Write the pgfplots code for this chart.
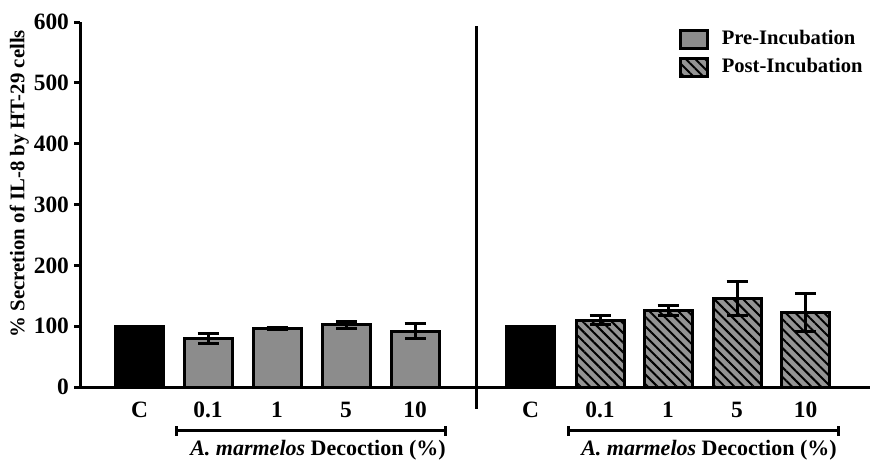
\documentclass[border=0pt]{standalone}
\usepackage{pgfplots}
\pgfplotsset{compat=1.18}
\usepackage{fontspec}
\setmainfont{Liberation Serif}
\usetikzlibrary{patterns.meta}
\pgfplotstableread{
x y e
208 80 8
277 96 1.5
346 102 6
415 92 12
}\pre
\pgfplotstableread{
x y e
600 110 7
668 126 8
737 145 28
805.5 122 31
}\post
\begin{document}
\begin{tikzpicture}[x=1pt,y=1pt]
\path[use as bounding box] (-40,-36.5) rectangle (396,193.5);
\begin{axis}[
  at={(0,0)}, anchor=south west,
  scale only axis, width=395pt, height=182.5pt,
  xmin=80, xmax=870, ymin=0, ymax=600,
  clip=false,
  axis x line=bottom, axis y line=left,
  axis line style={line width=1.5pt,-},
  ytick={0,100,...,600},
  ytick style={line width=1.5pt, black},
  major tick length=3pt,
  tick align=outside,
  xtick={139.5,208,277,346,415,530.5,600,668,737,805.5},
  xticklabels={C,0.1,1,5,10,C,0.1,1,5,10},
  xtick style={draw=none},
  /pgf/number format/assume math mode=true,
  tick label style={font=\fontsize{11.7}{13}\selectfont\bfseries},
  yticklabel style={xshift=1pt},
  xticklabel style={yshift=-1pt},
  ylabel={\% Secretion of IL-8 by HT-29 cells},
  ylabel style={at={(axis description cs:-0.077,0.557)}, anchor=center, font=\fontsize{10.4}{12}\selectfont\bfseries},
  legend style={at={(1,1)}, anchor=north east, xshift=-0.5pt, yshift=-1pt, draw=none, fill=none,
    font=\fontsize{10.3}{12}\selectfont\bfseries, row sep=1.5pt, inner sep=1pt,
    /tikz/every odd column/.append style={column sep=4.5pt}},
  legend cell align=left,
  legend image code/.code={\draw[#1] (0pt,-4.5pt) rectangle (13.5pt,4.5pt);},
]
\addplot[ybar, bar width=48, bar shift=0pt, fill=black, draw=black, line width=1.5pt, forget plot]
  coordinates {(139.5,100) (530.5,100)};
\addplot[ybar, bar width=48, bar shift=0pt, fill=black!45, draw=black, line width=1.5pt,
  error bars/.cd, y dir=both, y explicit,
  error bar style={line width=1.5pt, black},
  error mark options={line width=1.5pt, mark size=5.25pt, rotate=90, black}]
  table[x=x, y=y, y error=e] {\pre};
\addlegendentry{Pre-Incubation}
\addplot[ybar, bar width=48, bar shift=0pt, fill=black!42, draw=black, line width=1.5pt,
  postaction={pattern={Lines[angle=-45,distance=3.4pt,line width=1pt]}, pattern color=black},
  error bars/.cd, y dir=both, y explicit,
  error bar style={line width=1.5pt, black},
  error mark options={line width=1.5pt, mark size=5.25pt, rotate=90, black}]
  table[x=x, y=y, y error=e] {\post};
\addlegendentry{Post-Incubation}
% divider
\draw[line width=1.5pt] (axis cs:476,-36) -- (axis cs:476,593);
% brackets
\draw[line width=1.5pt] (axis cs:176,-72.3) -- (axis cs:445,-72.3);
\draw[line width=1.5pt] (axis cs:176,-80) -- (axis cs:176,-64.5);
\draw[line width=1.5pt] (axis cs:445,-80) -- (axis cs:445,-64.5);
\draw[line width=1.5pt] (axis cs:568,-72.3) -- (axis cs:838,-72.3);
\draw[line width=1.5pt] (axis cs:568,-80) -- (axis cs:568,-64.5);
\draw[line width=1.5pt] (axis cs:838,-80) -- (axis cs:838,-64.5);
\node[anchor=base, inner sep=0pt, font=\fontsize{11}{12}\selectfont\bfseries] at (axis cs:318,-111.8) {\textit{A. marmelos} Decoction (\%)};
\node[anchor=base, inner sep=0pt, font=\fontsize{11}{12}\selectfont\bfseries] at (axis cs:709,-111.8) {\textit{A. marmelos} Decoction (\%)};
\end{axis}
\end{tikzpicture}
\end{document}
